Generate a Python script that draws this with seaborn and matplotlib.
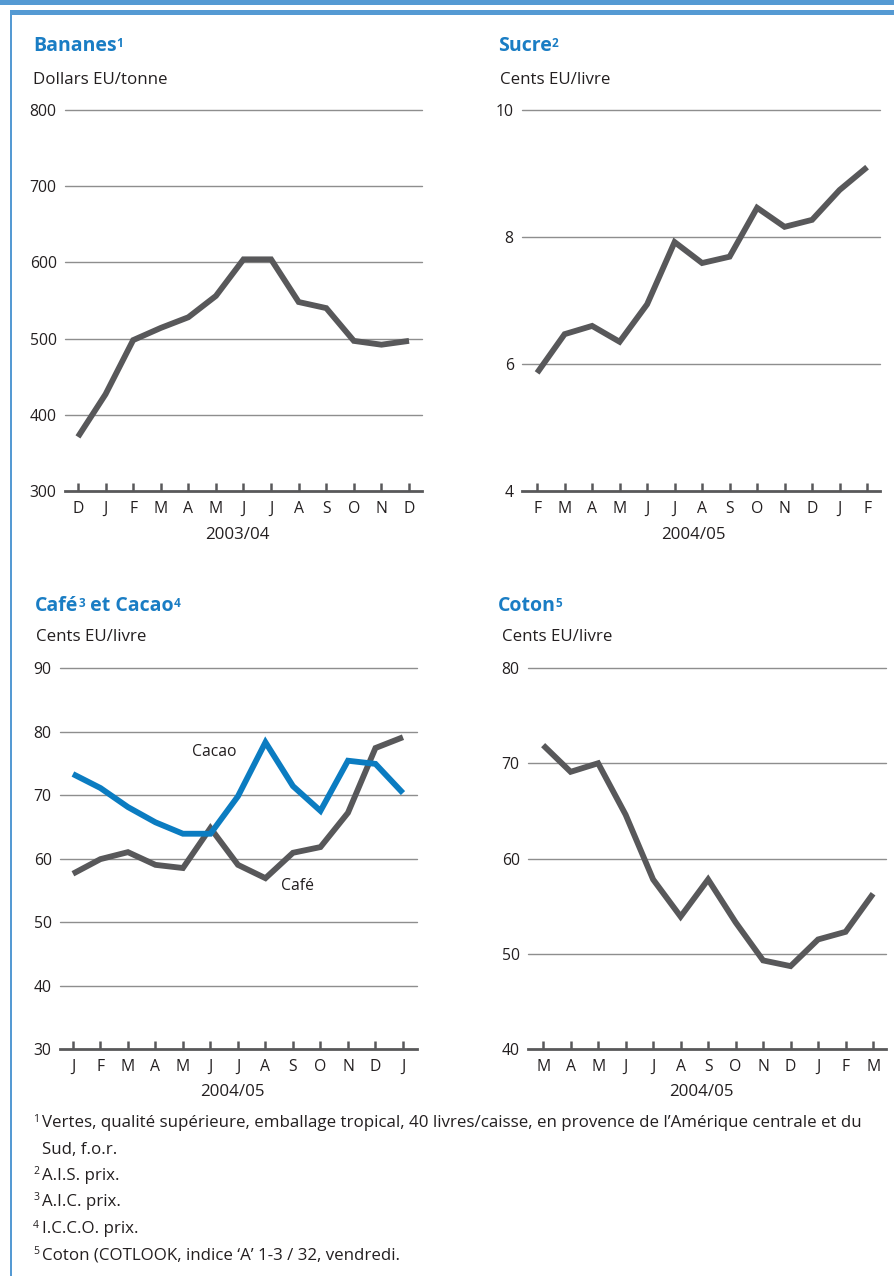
import numpy as np
import pandas as pd
import matplotlib
matplotlib.use('Agg')
import matplotlib.pyplot as plt
import seaborn as sns
from matplotlib.patches import Rectangle

# ---------------- data ----------------
bananes_months = ['D', 'J', 'F', 'M', 'A', 'M', 'J', 'J', 'A', 'S', 'O', 'N', 'D']
bananes_values = [371, 427, 498, 514, 528, 556, 604, 604, 548, 540, 497, 492, 497]
bananes_yticks = [300, 400, 500, 600, 700, 800]

sucre_months = ['F', 'M', 'A', 'M', 'J', 'J', 'A', 'S', 'O', 'N', 'D', 'J', 'F']
sucre_values = [5.86, 6.47, 6.60, 6.35, 6.94, 7.92, 7.59, 7.69, 8.46, 8.16, 8.27, 8.74, 9.10]
sucre_yticks = [4, 6, 8, 10]

cafe_months = ['J', 'F', 'M', 'A', 'M', 'J', 'J', 'A', 'S', 'O', 'N', 'D', 'J']
cafe_values = [57.6, 59.9, 61.0, 59.0, 58.5, 64.8, 59.0, 56.9, 60.9, 61.8, 67.2, 77.4, 79.1]
cacao_values = [73.3, 71.1, 68.1, 65.7, 63.9, 63.9, 69.8, 78.3, 71.4, 67.5, 75.4, 74.9, 70.3]
cafe_yticks = [30, 40, 50, 60, 70, 80, 90]

coton_months = ['M', 'A', 'M', 'J', 'J', 'A', 'S', 'O', 'N', 'D', 'J', 'F', 'M']
coton_values = [71.9, 69.1, 70.0, 64.6, 57.8, 53.9, 57.8, 53.3, 49.3, 48.7, 51.5, 52.3, 56.3]
coton_yticks = [40, 50, 60, 70, 80]

footnotes = [
    ('1', 'Vertes, qualité supérieure, emballage tropical, 40 livres/caisse, en provence de l\u2019Amérique centrale et du'),
    ('', 'Sud, f.o.r.'),
    ('2', 'A.I.S. prix.'),
    ('3', 'A.I.C. prix.'),
    ('4', 'I.C.C.O. prix.'),
    ('5', 'Coton (COTLOOK, indice \u2018A\u2019 1-3 / 32, vendredi.'),
]

# ---------------- style ----------------
sns.set_style('white')
plt.rcParams['font.family'] = ['Open Sans', 'DejaVu Sans']

DARK = '#58585a'
BLUE = '#0b7cc1'
TITLE_BLUE = '#1a7dc4'
FRAME = '#559ad3'
GRID = '#8e8e8e'
TXT = '#231f20'
FS_TICK = 11.3
FS_SUB = 12.2
FS_TITLE = 14
FS_SUP = 8.5
FS_FOOT = 12.15

W, H = 894, 1276
fig = plt.figure(figsize=(W / 100, H / 100), dpi=100)


def fx(px):
    return px / W


def fy(py):
    return 1 - py / H


def make_axes(l, t, r, b):
    return fig.add_axes([fx(l), fy(b), (r - l) / W, (b - t) / H])


def panel(ax, months, series, yticks, xlim):
    for vals, color in series:
        df = pd.DataFrame({'idx': np.arange(len(months)), 'val': vals})
        sns.lineplot(data=df, x='idx', y='val', ax=ax, color=color, lw=4.2,
                     solid_joinstyle='miter', solid_capstyle='butt', zorder=3)
    ax.set_ylim(yticks[0], yticks[-1])
    ax.set_xlim(*xlim)
    for y in yticks[1:]:
        ax.axhline(y, color=GRID, lw=1.0, zorder=1, clip_on=False)
    ax.set_yticks(yticks)
    ax.set_yticklabels([str(v) for v in yticks])
    ax.set_xticks(np.arange(len(months)))
    ax.set_xticklabels(months)
    for s in ['top', 'right', 'left']:
        ax.spines[s].set_visible(False)
    ax.spines['bottom'].set_color(DARK)
    ax.spines['bottom'].set_linewidth(2.0)
    ax.spines['bottom'].set_zorder(4)
    ax.tick_params(axis='x', direction='in', length=6, width=1.8, color=DARK,
                   pad=7, labelsize=FS_TICK, labelcolor=TXT, bottom=True)
    ax.tick_params(axis='y', length=0, pad=6, labelsize=FS_TICK, labelcolor=TXT)
    ax.set_xlabel('')
    ax.set_ylabel('')
    ax.patch.set_alpha(0)
    ax.grid(False)


def sup_after(ax, anchor, s):
    return ax.annotate(s, xy=(1.0, 0.95), xycoords=anchor, color=TITLE_BLUE,
                       fontweight='bold', fontsize=FS_SUP, va='top', ha='left',
                       annotation_clip=False)


# ---------------- axes ----------------
ax1 = make_axes(65, 110, 422, 491)
panel(ax1, bananes_months, [(bananes_values, DARK)], bananes_yticks, (-0.47, 12.47))

ax2 = make_axes(522, 110, 880, 491)
panel(ax2, sucre_months, [(sucre_values, DARK)], sucre_yticks, (-0.55, 12.47))

ax3 = make_axes(60, 668, 417, 1049)
panel(ax3, cafe_months, [(cafe_values, DARK), (cacao_values, BLUE)], cafe_yticks, (-0.47, 12.51))
ax3.text(5.15, 76.8, 'Cacao', fontsize=FS_TICK, color=TXT, ha='center', va='center')
ax3.text(8.15, 55.7, 'Café', fontsize=FS_TICK, color=TXT, ha='center', va='center')

ax4 = make_axes(528, 668, 886, 1049)
panel(ax4, coton_months, [(coton_values, DARK)], coton_yticks, (-0.55, 12.47))

# ---------------- titles ----------------
t1 = fig.text(fx(33), fy(46), 'Bananes', color=TITLE_BLUE, fontweight='bold', fontsize=FS_TITLE, va='center')
sup_after(ax1, t1, '1')

t2 = fig.text(fx(498), fy(46), 'Sucre', color=TITLE_BLUE, fontweight='bold', fontsize=FS_TITLE, va='center')
sup_after(ax2, t2, '2')

t3a = fig.text(fx(35), fy(606), 'Café', color=TITLE_BLUE, fontweight='bold', fontsize=FS_TITLE, va='center')
s3 = sup_after(ax3, t3a, '3')
t3b = ax3.annotate(' et Cacao', xy=(1.0, 0.5), xycoords=(s3, t3a), color=TITLE_BLUE,
                   fontweight='bold', fontsize=FS_TITLE, va='center', ha='left',
                   annotation_clip=False)
sup_after(ax3, t3b, '4')

t4 = fig.text(fx(498), fy(606), 'Coton', color=TITLE_BLUE, fontweight='bold', fontsize=FS_TITLE, va='center')
sup_after(ax4, t4, '5')

# subtitles
fig.text(fx(33), fy(80), 'Dollars EU/tonne', fontsize=FS_SUB, color=TXT, va='center')
fig.text(fx(500), fy(80), 'Cents EU/livre', fontsize=FS_SUB, color=TXT, va='center')
fig.text(fx(36), fy(637), 'Cents EU/livre', fontsize=FS_SUB, color=TXT, va='center')
fig.text(fx(502), fy(637), 'Cents EU/livre', fontsize=FS_SUB, color=TXT, va='center')

# period labels
fig.text(fx(237), fy(535), '2003/04', fontsize=FS_SUB, color=TXT, va='center', ha='center')
fig.text(fx(693), fy(535), '2004/05', fontsize=FS_SUB, color=TXT, va='center', ha='center')
fig.text(fx(232), fy(1092), '2004/05', fontsize=FS_SUB, color=TXT, va='center', ha='center')
fig.text(fx(701), fy(1092), '2004/05', fontsize=FS_SUB, color=TXT, va='center', ha='center')

# ---------------- footnotes ----------------
fn_y = [1123, 1150, 1176, 1202, 1229, 1256]
for (sup, txt), y in zip(footnotes, fn_y):
    if sup:
        fig.text(fx(33), fy(y - 4), sup, fontsize=7.5, color=TXT, va='center', ha='left')
    fig.text(fx(42), fy(y), txt, fontsize=FS_FOOT, color=TXT, va='center', ha='left')

# ---------------- frame ----------------
fig.add_artist(Rectangle((0, fy(4.5)), 1, 4.5 / H, transform=fig.transFigure,
                         facecolor=FRAME, edgecolor='none'))
fig.add_artist(Rectangle((fx(10), fy(15)), 1 - fx(10), 5 / H, transform=fig.transFigure,
                         facecolor=FRAME, edgecolor='none'))
fig.add_artist(Rectangle((fx(10), 0), 2 / W, fy(10), transform=fig.transFigure,
                         facecolor=FRAME, edgecolor='none'))

fig.savefig('out.png', dpi=100)
